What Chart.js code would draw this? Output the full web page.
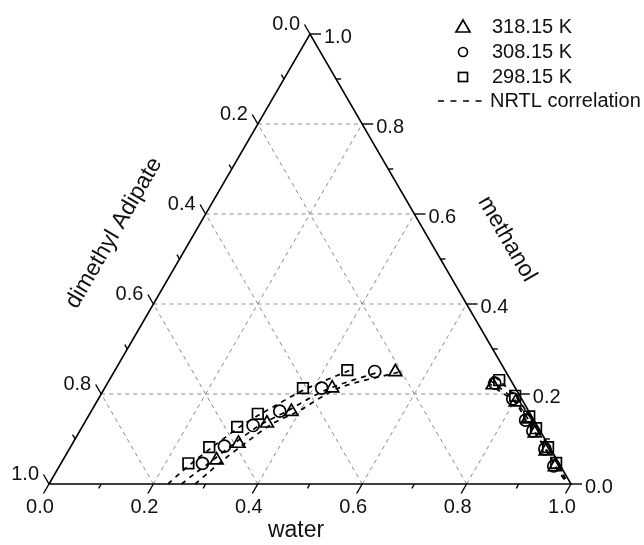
<!DOCTYPE html>
<html>
<head>
<meta charset="utf-8">
<script src="https://cdn.jsdelivr.net/npm/chart.js@4.4.0/dist/chart.umd.min.js"></script>
<style>
  html, body { margin: 0; padding: 0; background: #fff; }
</style>
</head>
<body>
<canvas id="ternary" width="644" height="545"></canvas>
<script>
// compositions as [water, methanol] mole fractions (dimethyl adipate = rest)
var exp318L = [[0.2945,0.053],[0.318,0.090],[0.350,0.135],[0.384,0.161],[0.436,0.213],[0.539,0.249]];
var exp318R = [[0.740,0.220],[0.803,0.182],[0.845,0.144],[0.874,0.113],[0.915,0.073],[0.950,0.038]];
var exp308L = [[0.271,0.046],[0.294,0.084],[0.326,0.130],[0.361,0.162],[0.416,0.213],[0.499,0.250]];
var exp308R = [[0.742,0.224],[0.794,0.189],[0.842,0.142],[0.868,0.118],[0.911,0.078],[0.947,0.040]];
var exp298L = [[0.244,0.046],[0.266,0.082],[0.297,0.127],[0.322,0.156],[0.380,0.213],[0.445,0.253]];
var exp298R = [[0.747,0.231],[0.795,0.196],[0.845,0.150],[0.871,0.124],[0.915,0.082],[0.948,0.047]];

// NRTL correlation curves
var nrtl318L = [[0.280,0],[0.292,0.024],[0.307,0.053],[0.330,0.090],[0.362,0.135],[0.396,0.161],[0.448,0.213],[0.550,0.250]];
var nrtl308L = [[0.254,0],[0.268,0.024],[0.283,0.046],[0.306,0.084],[0.338,0.130],[0.373,0.160],[0.427,0.210],[0.510,0.250]];
var nrtl298L = [[0.228,0],[0.239,0.024],[0.250,0.046],[0.272,0.082],[0.302,0.127],[0.328,0.156],[0.385,0.210],[0.455,0.256]];
var nrtl318R = [[0.728,0.226],[0.745,0.215],[0.808,0.178],[0.850,0.140],[0.879,0.110],[0.920,0.070],[0.955,0.035],[0.990,0.003]];
var nrtl308R = [[0.730,0.230],[0.747,0.220],[0.799,0.185],[0.847,0.138],[0.873,0.115],[0.916,0.075],[0.952,0.038],[0.990,0.004]];
var nrtl298R = [[0.735,0.238],[0.752,0.227],[0.800,0.192],[0.850,0.146],[0.876,0.120],[0.920,0.079],[0.953,0.044],[0.990,0.005]];

var tickValues = [0.0, 0.2, 0.4, 0.6, 0.8, 1.0];
var legendLabels = ['318.15 K', '308.15 K', '298.15 K', 'NRTL correlation'];

var FONT = '"Liberation Sans", Arial, sans-serif';

// ternary -> plot coords (x in units of side length, y = methanol fraction)
function toXY(list) {
  return list.map(function(p) { return { x: p[0] + p[1] / 2, y: p[1] }; });
}

function markerSet(list, style, radius) {
  return {
    data: toXY(list),
    showLine: false,
    pointStyle: style,
    pointRadius: radius,
    pointBorderColor: '#000',
    pointBackgroundColor: 'rgba(0,0,0,0)',
    pointBorderWidth: 1.7,
    clip: false
  };
}

function curveSet(list) {
  return {
    data: toXY(list),
    showLine: true,
    borderColor: '#000',
    borderWidth: 1.7,
    borderDash: [5, 5],
    pointRadius: 0,
    tension: 0.3,
    clip: false
  };
}

var ternaryFrame = {
  id: 'ternaryFrame',
  beforeDatasetsDraw: function(chart) {
    var ctx = chart.ctx, xs = chart.scales.x, ys = chart.scales.y;
    function P(w, m) { return [xs.getPixelForValue(w + m / 2), ys.getPixelForValue(m)]; }
    function line(a, b) { ctx.beginPath(); ctx.moveTo(a[0], a[1]); ctx.lineTo(b[0], b[1]); ctx.stroke(); }
    function unit(a, b) { var dx = b[0] - a[0], dy = b[1] - a[1], l = Math.sqrt(dx * dx + dy * dy); return [dx / l, dy / l]; }

    ctx.save();
    // grid
    ctx.strokeStyle = '#8a8a8a';
    ctx.lineWidth = 1;
    ctx.setLineDash([4, 4]);
    [0.2, 0.4, 0.6, 0.8].forEach(function(v) {
      line(P(0, v), P(1 - v, v));
      line(P(v, 0), P(v, 1 - v));
      line(P(1 - v, 0), P(0, 1 - v));
    });
    ctx.setLineDash([]);

    // frame
    ctx.strokeStyle = '#000';
    ctx.lineWidth = 1.6;
    ctx.beginPath();
    var a = P(0, 0), b = P(1, 0), c = P(0, 1);
    ctx.moveTo(a[0], a[1]); ctx.lineTo(b[0], b[1]); ctx.lineTo(c[0], c[1]); ctx.closePath();
    ctx.stroke();

    var dBottom = unit(c, a);   // down-left, parallel to left side
    var dLeft = unit(b, c);     // up-left, parallel to right side
    var dRight = [1, 0];

    ctx.lineWidth = 1.4;
    for (var i = 0; i <= 10; i++) {
      var v = i / 10, len = (i % 2 === 0) ? 11 : 5;
      var p1 = P(v, 0);
      line(p1, [p1[0] + dBottom[0] * len, p1[1] + dBottom[1] * len]);
      var p2 = P(1 - v, v);
      line(p2, [p2[0] + dRight[0] * len, p2[1] + dRight[1] * len]);
      var p3 = P(0, 1 - v);
      line(p3, [p3[0] + dLeft[0] * len, p3[1] + dLeft[1] * len]);
    }

    // tick labels
    ctx.fillStyle = '#111';
    ctx.font = '20px ' + FONT;
    ctx.textBaseline = 'middle';
    tickValues.forEach(function(v) {
      var t = v.toFixed(1);
      var q = P(v, 0);
      ctx.textAlign = 'center';
      ctx.fillText(t, q[0] - 9, q[1] + 23);
      q = P(1 - v, v);
      ctx.textAlign = 'left';
      ctx.fillText(t, q[0] + 14, q[1] + 3);
      q = P(0, 1 - v);
      ctx.textAlign = 'right';
      ctx.fillText(t, q[0] - 10, q[1] - 10);
    });

    // axis titles
    ctx.font = '23px ' + FONT;
    ctx.textAlign = 'center';
    ctx.fillText('water', 296, 531);
    var angL = Math.atan2(c[1] - a[1], c[0] - a[0]);
    ctx.save();
    ctx.translate(114, 233);
    ctx.rotate(angL);
    ctx.fillText('dimethyl Adipate', 0, 0);
    ctx.restore();
    var angR = Math.atan2(b[1] - c[1], b[0] - c[0]);
    ctx.save();
    ctx.translate(507, 239);
    ctx.rotate(angR);
    ctx.fillText('methanol', 0, 0);
    ctx.restore();
    ctx.restore();
  },
  afterDatasetsDraw: function(chart) {
    var ctx = chart.ctx;
    ctx.save();
    ctx.strokeStyle = '#000';
    ctx.lineWidth = 1.7;
    // triangle
    ctx.beginPath();
    ctx.moveTo(463, 20); ctx.lineTo(470, 32); ctx.lineTo(456, 32); ctx.closePath(); ctx.stroke();
    // circle
    ctx.beginPath(); ctx.arc(463, 52, 4.5, 0, Math.PI * 2); ctx.stroke();
    // square
    ctx.strokeRect(458.5, 72.5, 9, 9);
    // dashed line
    ctx.lineWidth = 1.4;
    ctx.setLineDash([6, 6.5]);
    ctx.beginPath(); ctx.moveTo(438, 101); ctx.lineTo(485, 101); ctx.stroke();
    ctx.setLineDash([]);
    ctx.fillStyle = '#111';
    ctx.font = '20px ' + FONT;
    ctx.textAlign = 'left';
    ctx.textBaseline = 'middle';
    ctx.fillText(legendLabels[0], 492, 27);
    ctx.fillText(legendLabels[1], 492, 52);
    ctx.fillText(legendLabels[2], 492, 77);
    ctx.fillText(legendLabels[3], 490, 101);
    ctx.restore();
  }
};

new Chart(document.getElementById('ternary').getContext('2d'), {
  type: 'scatter',
  data: {
    datasets: [
      curveSet(nrtl318L), curveSet(nrtl308L), curveSet(nrtl298L),
      curveSet(nrtl318R), curveSet(nrtl308R), curveSet(nrtl298R),
      markerSet(exp318L, 'triangle', 7.5), markerSet(exp318R, 'triangle', 7.5),
      markerSet(exp308L, 'circle', 6), markerSet(exp308R, 'circle', 6),
      markerSet(exp298L, 'rect', 7.5), markerSet(exp298R, 'rect', 7.5)
    ]
  },
  options: {
    responsive: false,
    animation: false,
    layout: { padding: { left: 49, right: 73, top: 34, bottom: 61 } },
    plugins: { legend: { display: false }, tooltip: { enabled: false } },
    scales: {
      x: { type: 'linear', min: 0, max: 1, display: false },
      y: { type: 'linear', min: 0, max: 1, display: false }
    }
  },
  plugins: [ternaryFrame]
});
</script>
</body>
</html>
